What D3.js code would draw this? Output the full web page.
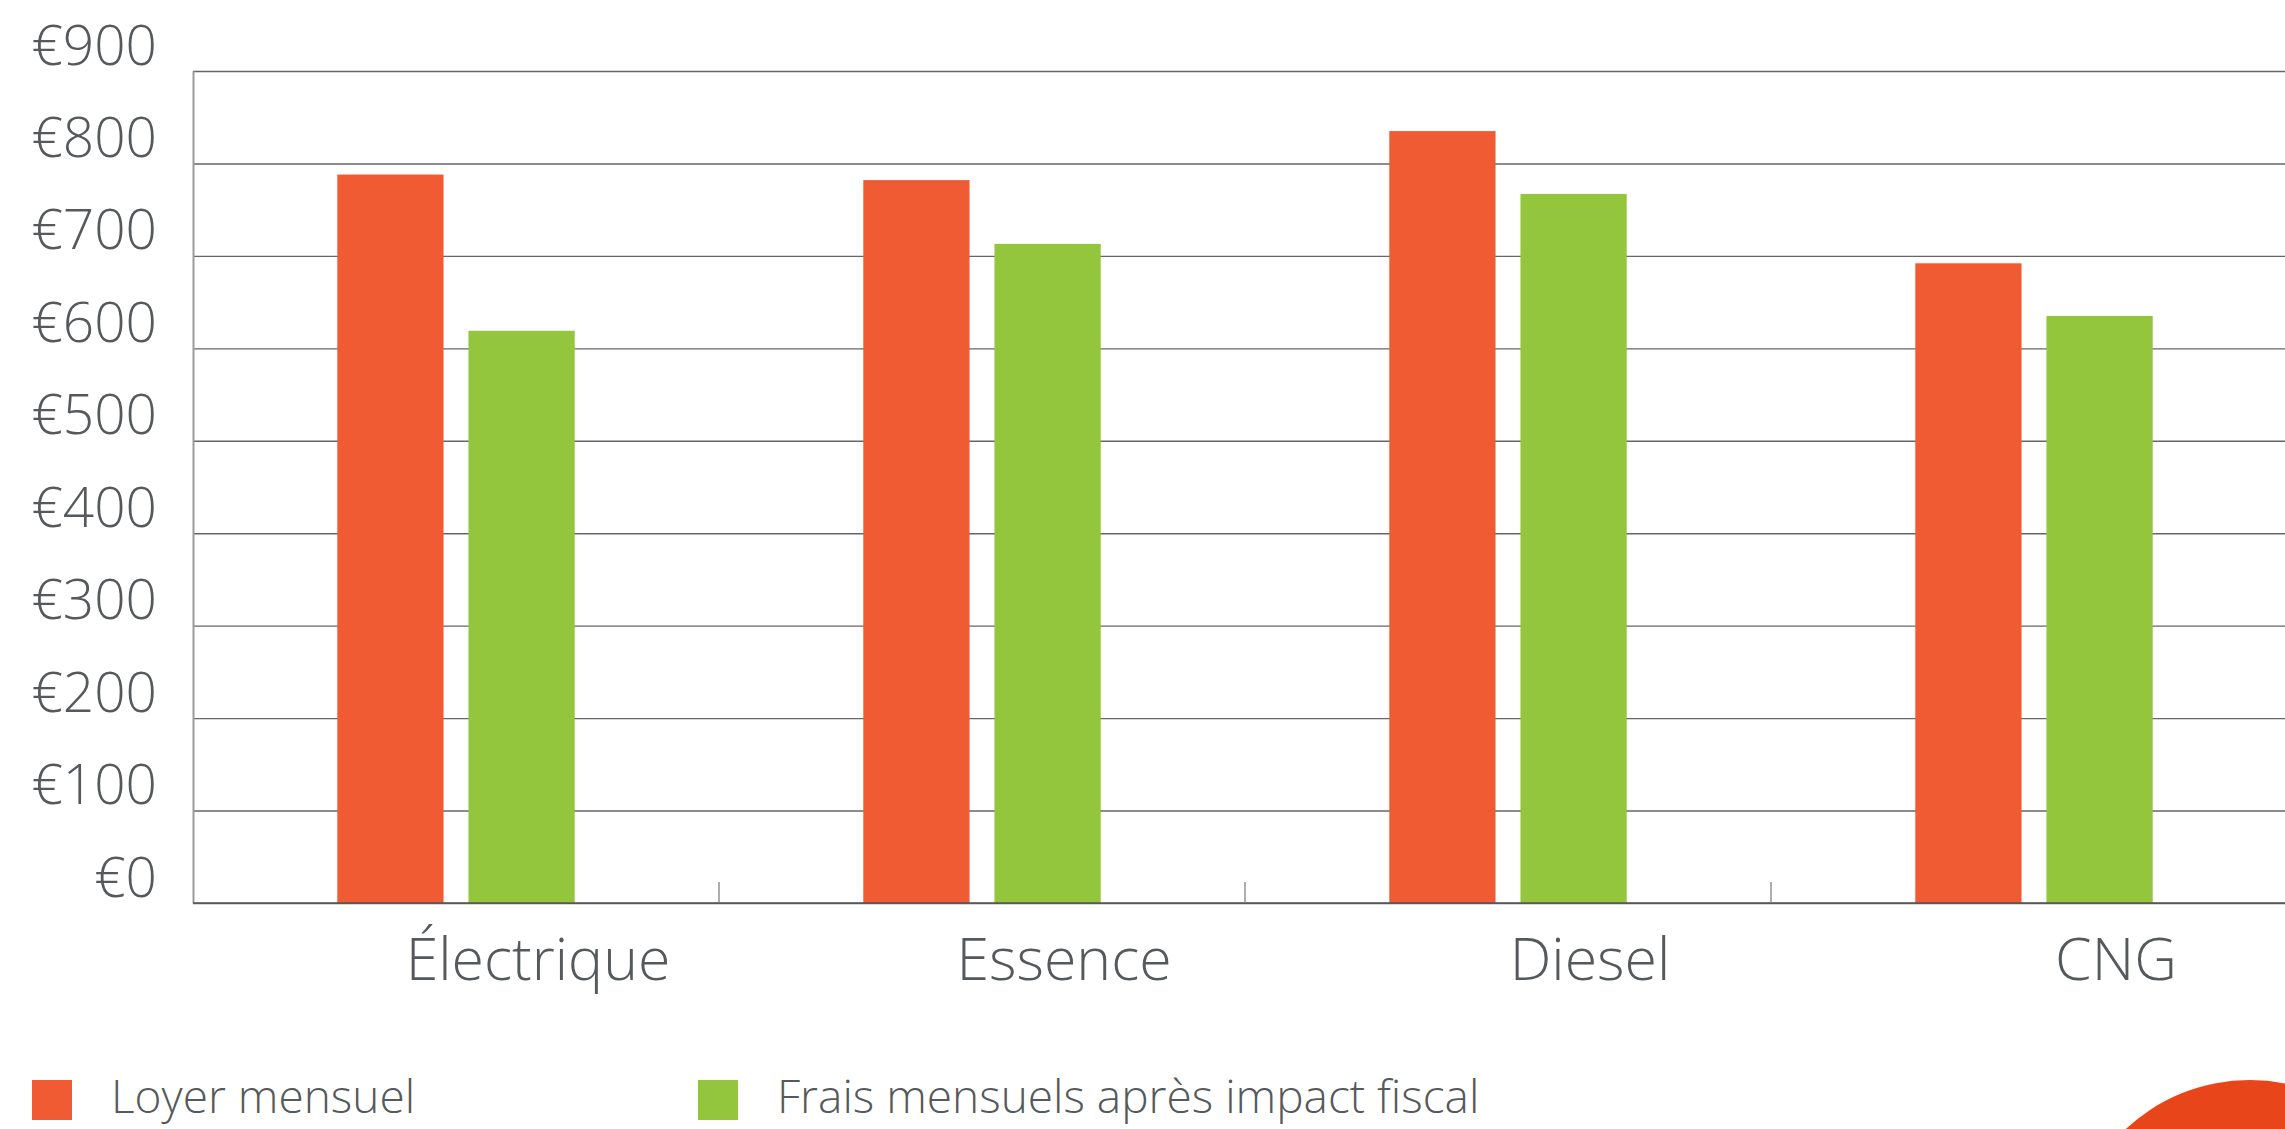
<!DOCTYPE html>
<html>
<head>
<meta charset="utf-8">
<script src="https://cdn.jsdelivr.net/npm/d3@7"></script>
<style>
  html, body { margin: 0; padding: 0; background: #fff; overflow: hidden; }
  svg text { font-family: "Open Sans", Lato, sans-serif; font-weight: 300; fill: #55595b; }
</style>
</head>
<body>
<svg id="chart" width="2285" height="1129"></svg>
<script>
// chart data
const categories = ["Électrique", "Essence", "Diesel", "CNG"];
const seriesNames = ["Loyer mensuel", "Frais mensuels après impact fiscal"];
const loyerMensuel = [788, 782, 835, 692];
const fraisApresImpact = [619, 713, 767, 635];
const yTicks = [0, 100, 200, 300, 400, 500, 600, 700, 800, 900];
const seriesColors = ["#f05b34", "#93c63d"];

let svg = d3.select("#chart");
let plotLeft = 193, plotRight = 2297, plotTop = 71, plotBottom = 903;

let rows = categories.map((c, i) => ({cat: c, values: [loyerMensuel[i], fraisApresImpact[i]]}));

let x = d3.scaleBand()
    .domain(categories)
    .range([plotLeft, plotRight]);

let xInner = d3.scaleBand()
    .domain(seriesNames)
    .range([0, x.bandwidth()])
    .paddingInner(0.19)
    .paddingOuter(1.1);

let y = d3.scaleLinear()
    .domain([0, 900])
    .range([plotBottom, plotTop]);

// grid lines
let grid = svg.append("g")
    .attr("transform", "translate(" + plotLeft + ",0)")
    .call(d3.axisLeft(y).tickValues(yTicks).tickSize(-(plotRight - plotLeft)).tickFormat(""));
grid.select(".domain").remove();
grid.selectAll("line").attr("stroke", "#666").attr("stroke-width", 1.4);

// bars
let groups = svg.append("g").selectAll("g")
    .data(rows)
    .enter().append("g")
    .attr("transform", d => "translate(" + x(d.cat) + ",0)");

groups.selectAll("rect")
    .data(d => d.values.map((v, i) => ({name: seriesNames[i], value: v, idx: i})))
    .enter().append("rect")
    .attr("x", d => xInner(d.name))
    .attr("width", xInner.bandwidth())
    .attr("y", d => y(d.value))
    .attr("height", d => y(0) - y(d.value))
    .attr("fill", d => seriesColors[d.idx]);

// left axis line + labels
let yAxis = svg.append("g")
    .attr("transform", "translate(" + plotLeft + ",0)")
    .call(d3.axisLeft(y).tickValues(yTicks).tickSize(0).tickPadding(36).tickFormat(d => "€" + d));
yAxis.select(".domain").attr("stroke", "#9a9c9c").attr("stroke-width", 2);
yAxis.selectAll("text")
    .attr("dy", -7)
    .style("font-size", "55px");

// bottom axis
let xAxis = svg.append("g")
    .attr("transform", "translate(0," + plotBottom + ")")
    .call(d3.axisBottom(x).tickSize(0));
xAxis.select(".domain").remove();
xAxis.selectAll("text")
    .attr("y", 77)
    .attr("dy", 0)
    .attr("dx", 82)
    .style("font-size", "59px");

svg.append("line")
    .attr("x1", plotLeft).attr("x2", plotRight)
    .attr("y1", plotBottom).attr("y2", plotBottom)
    .attr("stroke", "#555").attr("stroke-width", 1.6);

// small ticks between categories
svg.append("g").selectAll("line")
    .data(categories.slice(1))
    .enter().append("line")
    .attr("x1", d => x(d)).attr("x2", d => x(d))
    .attr("y1", plotBottom).attr("y2", plotBottom - 21)
    .attr("stroke", "#777").attr("stroke-width", 1.2);

// legend
let legendX = [32, 698];
let legend = svg.append("g").selectAll("g")
    .data(seriesNames)
    .enter().append("g")
    .attr("transform", (d, i) => "translate(" + legendX[i] + ",1080)");
legend.append("rect")
    .attr("width", 40).attr("height", 40)
    .attr("fill", (d, i) => seriesColors[i]);
legend.append("text")
    .attr("x", 79).attr("y", 33)
    .style("font-size", "46px")
    .text(d => d);

// decorative circle bottom right
svg.append("circle")
    .attr("cx", 2250).attr("cy", 1262).attr("r", 182)
    .attr("fill", "#e8451a");
</script>
</body>
</html>
